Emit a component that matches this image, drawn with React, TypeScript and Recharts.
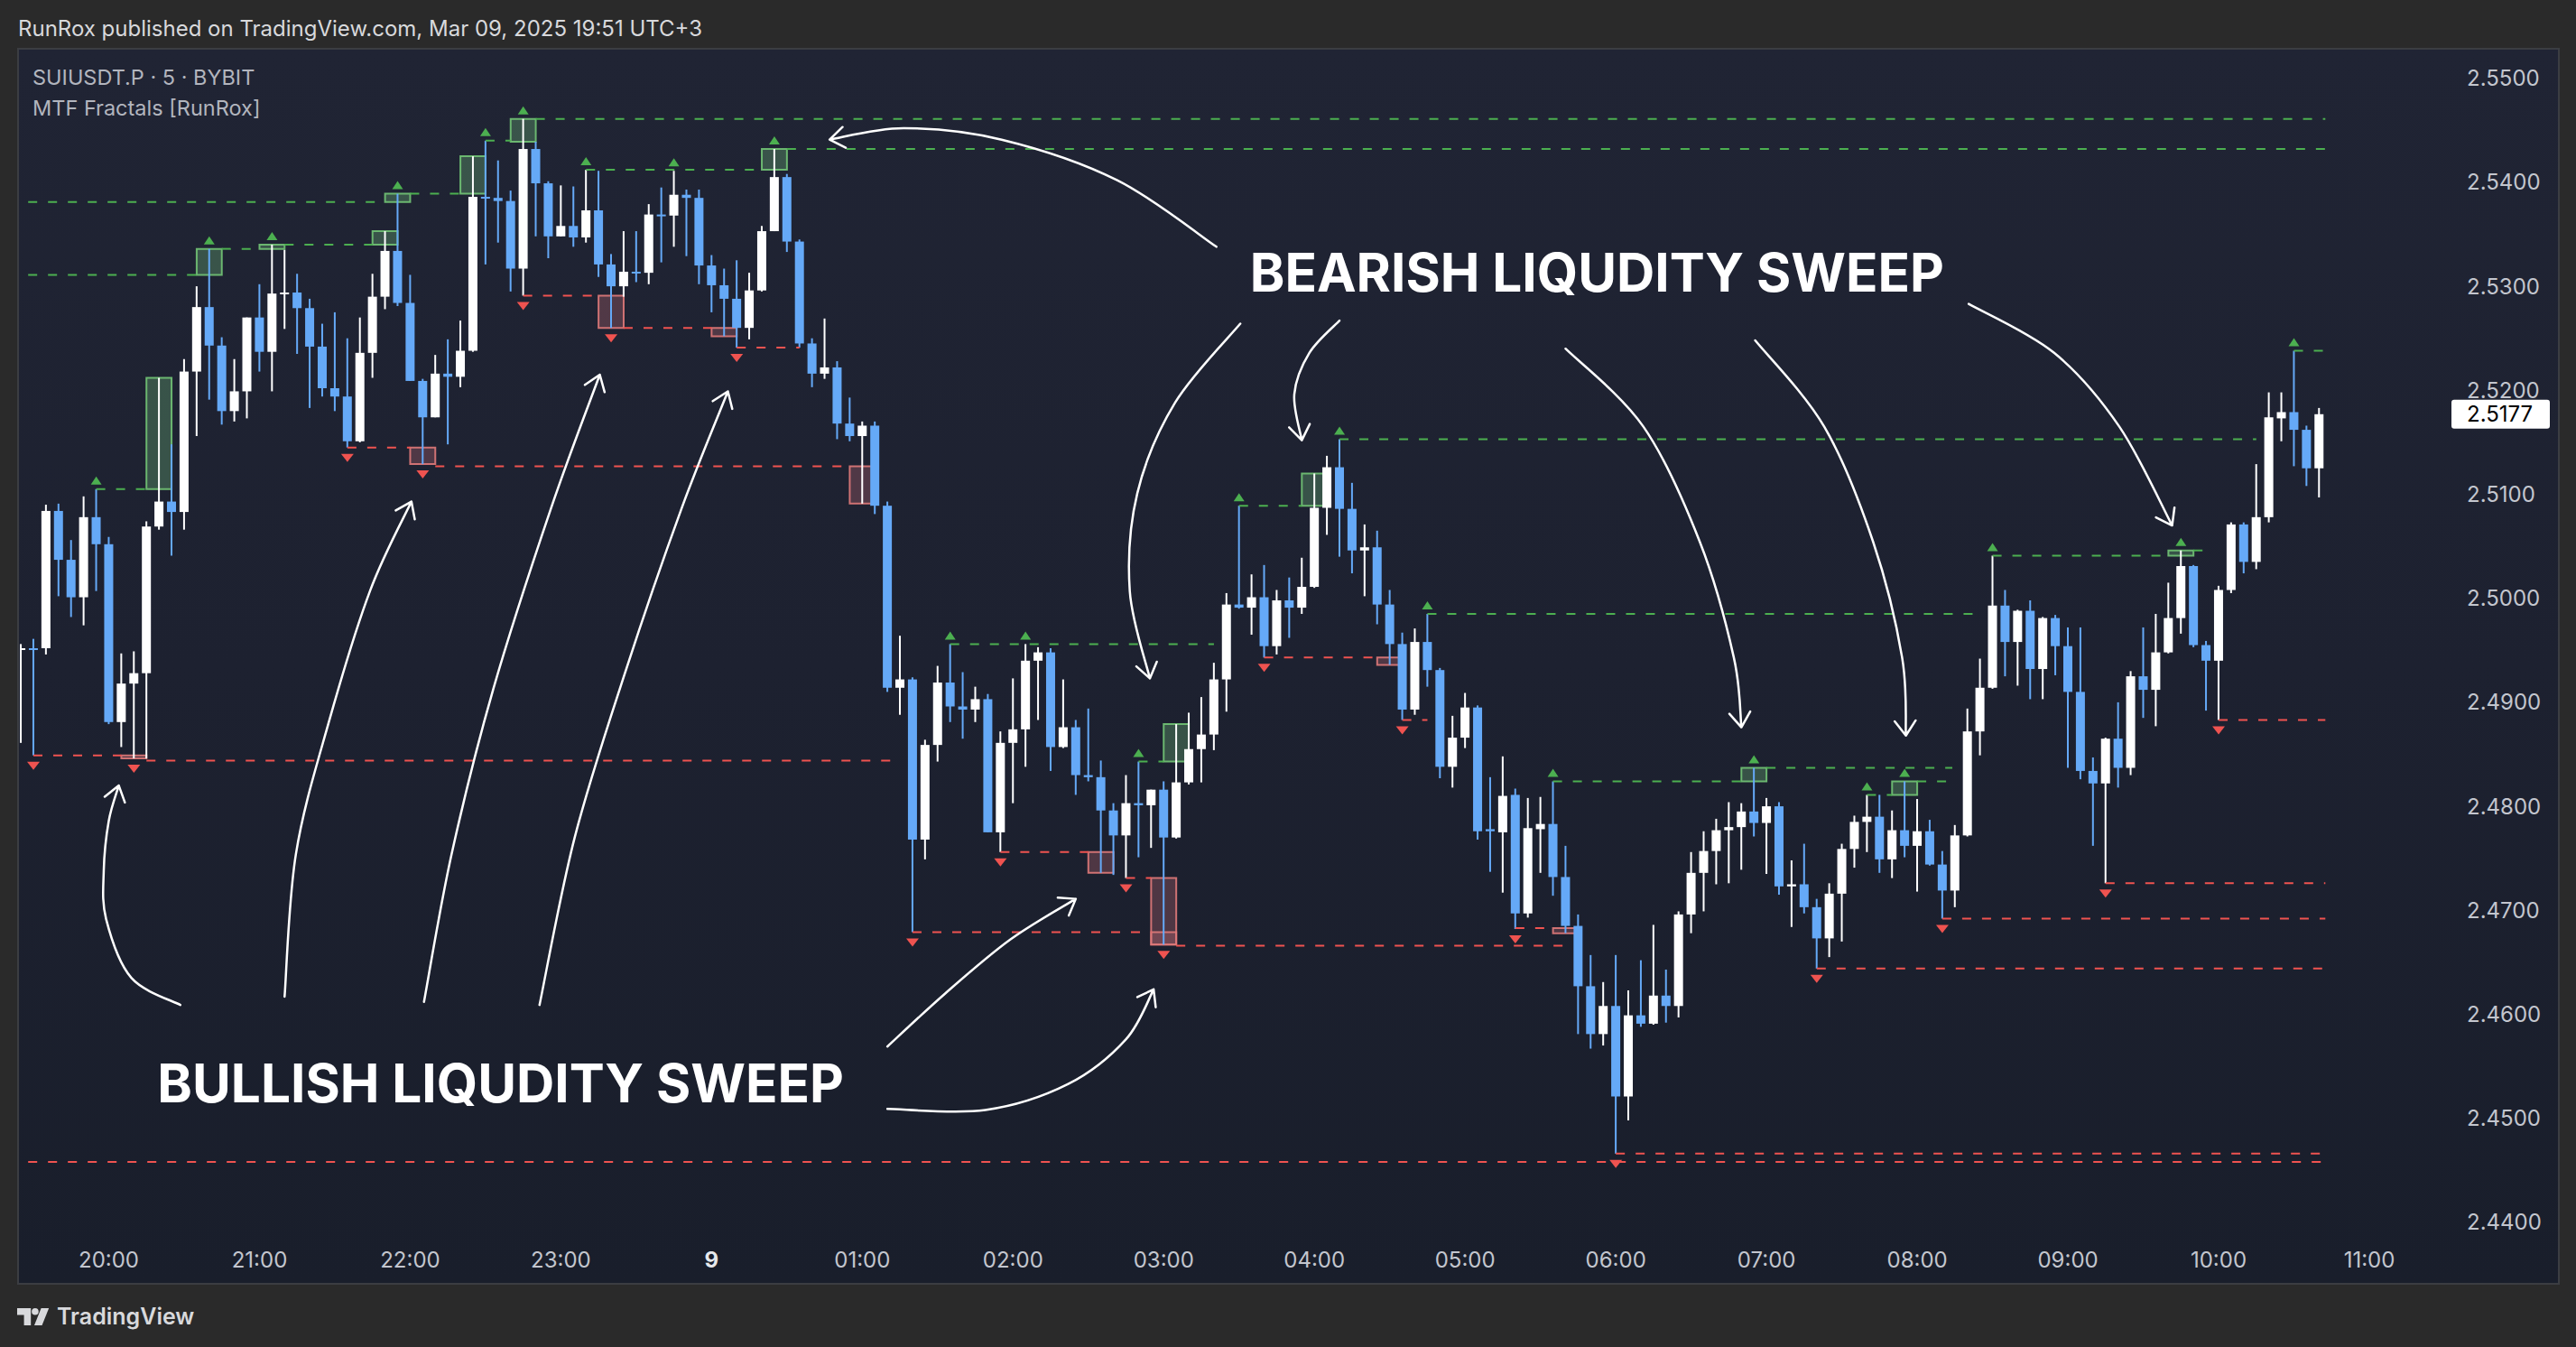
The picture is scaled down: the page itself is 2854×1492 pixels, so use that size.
import React from 'react';
import {
  ComposedChart,
  Bar,
  Scatter,
  XAxis,
  YAxis,
  ReferenceLine,
  ReferenceArea,
  ReferenceDot,
} from 'recharts';

// SUIUSDT.P 5m candles, 19:25 -> 10:40 (index 0 = 19:25)
const opens = [
  2.4951, 2.4952, 2.4952, 2.5084, 2.5037, 2.5001, 2.5078, 2.5052, 2.4881, 2.4918,
  2.4928, 2.5069, 2.5093, 2.5083, 2.5218, 2.528, 2.5243, 2.518, 2.5199, 2.527,
  2.5237, 2.5293, 2.5294, 2.5279, 2.5242, 2.5202, 2.5194, 2.5151, 2.5236, 2.529,
  2.5334, 2.5284, 2.5209, 2.5174, 2.5216, 2.5213, 2.5238, 2.5386, 2.5385, 2.5382,
  2.5317, 2.5432, 2.5399, 2.5348, 2.5358, 2.5347, 2.5373, 2.5321, 2.53, 2.5314,
  2.5313, 2.5369, 2.5368, 2.5388, 2.5385, 2.532, 2.5301, 2.5288, 2.526, 2.5296,
  2.5353, 2.5405, 2.5343, 2.5245, 2.5216, 2.5222, 2.5168, 2.5156, 2.5166, 2.5089,
  2.4914, 2.4922, 2.4768, 2.4859, 2.4919, 2.4896, 2.4893, 2.4903, 2.4775, 2.4861,
  2.4874, 2.494, 2.4948, 2.4857, 2.4876, 2.483, 2.4828, 2.4796, 2.4772, 2.4803,
  2.4801, 2.4816, 2.477, 2.4823, 2.4855, 2.4869, 2.4922, 2.4994, 2.4991, 2.5001,
  2.4954, 2.4998, 2.4991, 2.5011, 2.5087, 2.5126, 2.5086, 2.5046, 2.5049, 2.4994,
  2.4956, 2.4893, 2.4958, 2.4931, 2.4838, 2.4866, 2.4895, 2.4778, 2.4775, 2.4811,
  2.4697, 2.4778, 2.4783, 2.4732, 2.4685, 2.4627, 2.4581, 2.4608, 2.4521, 2.4599,
  2.4591, 2.4618, 2.4608, 2.4696, 2.4736, 2.4757, 2.4777, 2.478, 2.4795, 2.4784,
  2.48, 2.4723, 2.4725, 2.4703, 2.4673, 2.4716, 2.4759, 2.4785, 2.479, 2.4749,
  2.4777, 2.4762, 2.4776, 2.4744, 2.4719, 2.4772, 2.4872, 2.4914, 2.4993, 2.4958,
  2.4988, 2.4932, 2.4981, 2.4954, 2.491, 2.4834, 2.4822, 2.4865, 2.4837, 2.4925,
  2.4912, 2.4948, 2.4981, 2.5031, 2.4955, 2.494, 2.5008, 2.5071, 2.5035, 2.5078,
  2.5173, 2.5179, 2.5162, 2.5125,
];
const highs = [
  2.4956, 2.4961, 2.509, 2.5091, 2.5056, 2.5098, 2.5105, 2.5059, 2.4947, 2.4949,
  2.5074, 2.5212, 2.5148, 2.523, 2.53, 2.5336, 2.5251, 2.523, 2.527, 2.5302,
  2.534, 2.5335, 2.5312, 2.5288, 2.5264, 2.5275, 2.525, 2.527, 2.5312, 2.5353,
  2.5389, 2.5311, 2.5211, 2.5234, 2.5249, 2.5267, 2.5425, 2.544, 2.5421, 2.5392,
  2.5461, 2.5439, 2.5401, 2.5397, 2.5396, 2.5412, 2.5411, 2.5331, 2.5353, 2.5353,
  2.5379, 2.5395, 2.5411, 2.5393, 2.5393, 2.533, 2.5317, 2.5325, 2.5313, 2.5358,
  2.5432, 2.5408, 2.5345, 2.525, 2.5269, 2.5228, 2.5193, 2.517, 2.517, 2.5093,
  2.4964, 2.4924, 2.4864, 2.4935, 2.4956, 2.4929, 2.4915, 2.4908, 2.4872, 2.4923,
  2.4956, 2.4953, 2.4952, 2.4922, 2.4883, 2.4894, 2.4844, 2.4803, 2.483, 2.4843,
  2.4816, 2.4824, 2.4879, 2.489, 2.4905, 2.4938, 2.5005, 2.5089, 2.5023, 2.5032,
  2.5008, 2.502, 2.5039, 2.512, 2.5137, 2.5153, 2.5111, 2.5071, 2.5065, 2.5008,
  2.4967, 2.4971, 2.4985, 2.4933, 2.4887, 2.4909, 2.4897, 2.4828, 2.4848, 2.4817,
  2.4808, 2.4809, 2.4824, 2.4762, 2.4696, 2.4657, 2.4631, 2.4657, 2.4623, 2.4652,
  2.4686, 2.4643, 2.4699, 2.4756, 2.4776, 2.4788, 2.4804, 2.4803, 2.4837, 2.4808,
  2.4804, 2.4748, 2.4764, 2.4711, 2.4726, 2.4764, 2.4791, 2.4811, 2.4811, 2.4796,
  2.4824, 2.4807, 2.4787, 2.4757, 2.4782, 2.4894, 2.4942, 2.5041, 2.5008, 2.4989,
  2.4998, 2.4982, 2.4984, 2.4972, 2.4972, 2.4847, 2.4866, 2.49, 2.493, 2.4972,
  2.4985, 2.5015, 2.5046, 2.5032, 2.4959, 2.5012, 2.5073, 2.5073, 2.5129, 2.5198,
  2.5198, 2.5238, 2.5166, 2.5183,
];
const lows = [
  2.4861, 2.4849, 2.4946, 2.5002, 2.4982, 2.4974, 2.5007, 2.4879, 2.4857, 2.4846,
  2.4846, 2.5066, 2.5041, 2.5066, 2.5156, 2.5191, 2.5167, 2.517, 2.5173, 2.5218,
  2.5199, 2.5259, 2.5235, 2.5183, 2.5194, 2.518, 2.5145, 2.515, 2.5212, 2.5278,
  2.5281, 2.5209, 2.5129, 2.5174, 2.5148, 2.5203, 2.5237, 2.5321, 2.5342, 2.5295,
  2.5291, 2.5348, 2.5327, 2.5348, 2.5338, 2.5342, 2.5309, 2.526, 2.529, 2.5304,
  2.5302, 2.5323, 2.5338, 2.5329, 2.5302, 2.5275, 2.5252, 2.5241, 2.5249, 2.5295,
  2.5353, 2.5333, 2.5241, 2.5203, 2.5211, 2.5153, 2.5151, 2.5091, 2.5081, 2.491,
  2.4888, 2.4679, 2.4749, 2.4843, 2.4881, 2.4865, 2.4881, 2.4775, 2.4756, 2.4803,
  2.4838, 2.4883, 2.4834, 2.4856, 2.4811, 2.4824, 2.4736, 2.4734, 2.4731, 2.4751,
  2.476, 2.4667, 2.4769, 2.4821, 2.4823, 2.4854, 2.4891, 2.499, 2.4965, 2.4943,
  2.4946, 2.4962, 2.4985, 2.501, 2.5061, 2.504, 2.5024, 2.5002, 2.4975, 2.4936,
  2.4883, 2.4888, 2.4915, 2.4827, 2.4818, 2.4856, 2.4768, 2.4737, 2.4717, 2.4682,
  2.4693, 2.4736, 2.4714, 2.4678, 2.4581, 2.4567, 2.457, 2.4466, 2.4498, 2.4588,
  2.459, 2.4592, 2.4597, 2.4678, 2.4699, 2.4725, 2.4726, 2.4739, 2.4771, 2.4735,
  2.4715, 2.4684, 2.4697, 2.4644, 2.4655, 2.467, 2.4741, 2.4756, 2.4736, 2.4731,
  2.4751, 2.4718, 2.4743, 2.4692, 2.4703, 2.4771, 2.4849, 2.4913, 2.4925, 2.4916,
  2.4903, 2.4903, 2.4926, 2.4837, 2.4826, 2.4762, 2.4726, 2.4818, 2.483, 2.4885,
  2.4877, 2.4947, 2.4966, 2.4953, 2.4892, 2.4883, 2.5005, 2.5024, 2.5028, 2.5073,
  2.5151, 2.5127, 2.5108, 2.5097,
];
const closes = [
  2.4952, 2.4951, 2.5084, 2.5037, 2.5001, 2.5078, 2.5052, 2.4881, 2.4918, 2.4928,
  2.5069, 2.5093, 2.5083, 2.5218, 2.528, 2.5243, 2.518, 2.5199, 2.527, 2.5237,
  2.5293, 2.5294, 2.5279, 2.5242, 2.5202, 2.5194, 2.5151, 2.5236, 2.529, 2.5334,
  2.5284, 2.5209, 2.5174, 2.5216, 2.5213, 2.5238, 2.5386, 2.5385, 2.5382, 2.5317,
  2.5432, 2.5399, 2.5348, 2.5358, 2.5347, 2.5373, 2.5321, 2.53, 2.5314, 2.5313,
  2.5369, 2.5368, 2.5388, 2.5385, 2.532, 2.5301, 2.5288, 2.526, 2.5296, 2.5353,
  2.5405, 2.5343, 2.5245, 2.5216, 2.5222, 2.5168, 2.5156, 2.5166, 2.5089, 2.4914,
  2.4922, 2.4768, 2.4859, 2.4919, 2.4896, 2.4893, 2.4903, 2.4775, 2.4861, 2.4874,
  2.494, 2.4948, 2.4857, 2.4876, 2.483, 2.4828, 2.4796, 2.4772, 2.4803, 2.4801,
  2.4816, 2.477, 2.4823, 2.4855, 2.4869, 2.4922, 2.4994, 2.4991, 2.5001, 2.4954,
  2.4998, 2.4991, 2.5011, 2.5087, 2.5126, 2.5086, 2.5046, 2.5049, 2.4994, 2.4956,
  2.4893, 2.4958, 2.4931, 2.4838, 2.4866, 2.4895, 2.4776, 2.4776, 2.481, 2.4697,
  2.4779, 2.4783, 2.4732, 2.4685, 2.4627, 2.4581, 2.4608, 2.4521, 2.4599, 2.4591,
  2.4618, 2.4608, 2.4696, 2.4736, 2.4757, 2.4777, 2.478, 2.4795, 2.4784, 2.48,
  2.4723, 2.4725, 2.4703, 2.4673, 2.4716, 2.4759, 2.4785, 2.479, 2.4749, 2.4777,
  2.4762, 2.4776, 2.4744, 2.4719, 2.4772, 2.4872, 2.4914, 2.4993, 2.4958, 2.4988,
  2.4932, 2.4981, 2.4954, 2.491, 2.4834, 2.4822, 2.4865, 2.4837, 2.4925, 2.4912,
  2.4948, 2.4981, 2.5031, 2.4955, 2.494, 2.5008, 2.5071, 2.5035, 2.5078, 2.5174,
  2.5179, 2.5162, 2.5125, 2.5177,
];

const hourTicks = [7, 19, 31, 43, 55, 67, 79, 91, 103, 115, 127, 139, 151, 163, 175, 187];
const hourLabels = [
  '20:00', '21:00', '22:00', '23:00', '9', '01:00', '02:00', '03:00',
  '04:00', '05:00', '06:00', '07:00', '08:00', '09:00', '10:00', '11:00',
];
const priceTicks = [2.44, 2.45, 2.46, 2.47, 2.48, 2.49, 2.5, 2.51, 2.52, 2.53, 2.54, 2.55];

// fractal levels [from, to, price]
const highLevels = [
  [6, 10, 2.5105], [-1, 14, 2.5311], [16, 19, 2.5336], [21, 28, 2.534],
  [-1, 29, 2.5381], [31, 35, 2.5389], [37, 39, 2.544], [41, 183.5, 2.5461],
  [45, 59, 2.5412], [61, 183.5, 2.5432], [74, 95, 2.4956], [89, 91, 2.4843],
  [97, 102, 2.5089], [105, 178, 2.5153], [112, 156, 2.4985], [122, 137, 2.4824],
  [139, 153.8, 2.4837], [147, 149, 2.4811], [151, 153.8, 2.4824], [157, 171, 2.5041],
  [173, 174.5, 2.5046], [181, 183.5, 2.5238],
];
const lowLevels = [
  [1, 8, 2.4849], [10, 70, 2.4844], [26, 31, 2.5145], [33, 66, 2.5127],
  [40, 46, 2.5291], [48, 55, 2.526], [57, 62, 2.5241], [71, 90, 2.4679],
  [78, 85, 2.4756], [88, 90, 2.4731], [92, 123, 2.4666], [99, 108, 2.4943],
  [110, 112, 2.4883], [119, 122, 2.4683], [127, 183.5, 2.4466], [-1, 183.5, 2.4458],
  [143, 183.5, 2.4644], [153, 183.5, 2.4692], [166, 183.5, 2.4726], [175, 183.5, 2.4883],
];
// liquidity sweeps [candle, swept level]
const highSweeps = [
  [11, 2.5105], [15, 2.5311], [20, 2.5336], [29, 2.534], [30, 2.5381], [36, 2.5389],
  [40, 2.5439], [60, 2.5412], [92, 2.4843], [103, 2.5089], [138, 2.4824], [150, 2.4811],
  [172, 2.5041],
];
const lowSweeps = [
  [9, 2.4849], [32, 2.5145], [47, 2.5291], [56, 2.526], [67, 2.5127], [86, 2.4756],
  [91, 2.4731], [91, 2.4679], [109, 2.4943], [123, 2.4683],
];
const upFractals = [6, 15, 20, 30, 37, 40, 45, 52, 60, 74, 80, 89, 97, 105, 112, 122, 138, 147, 150, 157, 172, 181];
const downFractals = [1, 9, 26, 32, 40, 47, 57, 71, 78, 88, 91, 99, 110, 119, 127, 143, 153, 166, 175];

// hand drawn arrows, [candle index, price]
const bullArrows = [
  [[12.7, 2.4609], [8.8, 2.4635], [6.8, 2.4691], [6.6, 2.4738], [7.0, 2.4786], [7.8, 2.482]],
  [[21.0, 2.4617], [21.9, 2.4754], [24.5, 2.488], [27.8, 2.5007], [31.1, 2.5093]],
  [[32.1, 2.4612], [34.3, 2.4754], [37.6, 2.4912], [42.2, 2.5086], [46.1, 2.5215]],
  [[41.3, 2.4609], [44.1, 2.477], [48.1, 2.4928], [52.6, 2.5086], [56.3, 2.5199]],
  [[69.0, 2.4569], [73.6, 2.462], [78.8, 2.4672], [84.0, 2.4711]],
  [[69.0, 2.4509], [76.8, 2.4508], [83.4, 2.4533], [88.0, 2.4576], [90.2, 2.4624]],
];
const bearArrows = [
  [[95.2, 2.5338], [87.3, 2.5402], [78.1, 2.5441], [70.3, 2.5452], [64.4, 2.5441]],
  [[97.1, 2.5264], [91.9, 2.5188], [88.9, 2.5101], [88.3, 2.5007], [89.9, 2.4923]],
  [[105.0, 2.5267], [102.6, 2.5236], [101.4, 2.5196], [102.0, 2.5152]],
  [[123.0, 2.524], [129.2, 2.5165], [133.7, 2.5054], [136.4, 2.4943], [137.0, 2.4876]],
  [[138.1, 2.5248], [143.6, 2.5165], [147.5, 2.5054], [149.8, 2.4943], [150.1, 2.4868]],
  [[155.1, 2.5283], [161.9, 2.5236], [167.1, 2.5165], [171.3, 2.507]],
];
const notes = [
  { i: 125.5, p: 2.5313, text: 'BEARISH LIQUDITY SWEEP' },
  { i: 38.2, p: 2.4533, text: 'BULLISH LIQUDITY SWEEP' },
];

const BULL = '#ffffff';
const BEAR = '#65a9f7';
const GREEN = '#4caf50';
const RED = '#ef5350';
const AXIS_TEXT = '#c3c6ce';
const FONT = 'Inter, "Noto Sans", sans-serif';

const candles = opens.map((o, i) => ({
  i,
  o,
  hi: highs[i],
  lo: lows[i],
  c: closes[i],
  range: [lows[i], highs[i]],
}));

function Candle(props: any) {
  const { x, y, width, height, payload } = props;
  const top = Math.min(y, y + height);
  const h = Math.abs(height);
  const k = h / (payload.hi - payload.lo || 1e-9);
  const cx = x + width / 2;
  const yO = top + (payload.hi - payload.o) * k;
  const yC = top + (payload.hi - payload.c) * k;
  const color = payload.c >= payload.o ? BULL : BEAR;
  return (
    <g>
      <rect x={cx - 1} y={top} width={2} height={h} fill={color} />
      <rect
        x={cx - 5}
        y={Math.min(yO, yC)}
        width={10}
        height={Math.max(Math.abs(yO - yC), 2)}
        fill={color}
      />
    </g>
  );
}

const UpMark = (props: any) => {
  const { cx, cy } = props;
  return <polygon points={`${cx - 6},${cy - 5} ${cx + 6},${cy - 5} ${cx},${cy - 14}`} fill={GREEN} />;
};
const DownMark = (props: any) => {
  const { cx, cy } = props;
  return <polygon points={`${cx - 7},${cy + 7} ${cx + 7},${cy + 7} ${cx},${cy + 16}`} fill={RED} />;
};
const NoDot = () => <g />;

// smooth curve through the points + open arrow head at the end
function arrowLine(props: any) {
  const pts = props.points as { x: number; y: number }[];
  if (!pts || pts.length < 2) return <g />;
  let d = `M${pts[0].x},${pts[0].y}`;
  let last = pts[0];
  for (let k = 0; k < pts.length - 1; k++) {
    const p0 = pts[k - 1] || pts[k];
    const p1 = pts[k];
    const p2 = pts[k + 1];
    const p3 = pts[k + 2] || p2;
    const c1x = p1.x + (p2.x - p0.x) / 6;
    const c1y = p1.y + (p2.y - p0.y) / 6;
    const c2x = p2.x - (p3.x - p1.x) / 6;
    const c2y = p2.y - (p3.y - p1.y) / 6;
    d += ` C${c1x},${c1y} ${c2x},${c2y} ${p2.x},${p2.y}`;
    last = { x: c2x, y: c2y };
  }
  const tip = pts[pts.length - 1];
  let dx = last.x - tip.x;
  let dy = last.y - tip.y;
  const len = Math.hypot(dx, dy) || 1;
  dx /= len;
  dy /= len;
  const arm = 20;
  const a = 0.62;
  const ax1 = dx * Math.cos(a) - dy * Math.sin(a);
  const ay1 = dx * Math.sin(a) + dy * Math.cos(a);
  const ax2 = dx * Math.cos(-a) - dy * Math.sin(-a);
  const ay2 = dx * Math.sin(-a) + dy * Math.cos(-a);
  d += ` M${tip.x + ax1 * arm},${tip.y + ay1 * arm} L${tip.x},${tip.y} L${tip.x + ax2 * arm},${tip.y + ay2 * arm}`;
  return (
    <path d={d} fill="none" stroke="#ffffff" strokeWidth={2.5} strokeLinecap="round" strokeLinejoin="round" />
  );
}

const HourTick = (props: any) => {
  const { x, y, payload } = props;
  const label = hourLabels[hourTicks.indexOf(payload.value)];
  const bold = label === '9';
  return (
    <text
      x={x}
      y={y + 21}
      dy="0.35em"
      textAnchor="middle"
      fill={bold ? '#e6e8ec' : AXIS_TEXT}
      fontSize={24}
      fontWeight={bold ? 700 : 400}
      fontFamily={FONT}
    >
      {label}
    </text>
  );
};

const PriceTag = (props: any) => {
  const { viewBox } = props;
  const x = viewBox.x + viewBox.width + 11;
  const y = viewBox.y;
  return (
    <g>
      <rect x={x} y={y - 16} width={109} height={32} rx={3} fill="#ffffff" />
      <text x={x + 17} y={y} dy="0.35em" fill="#000000" fontSize={24} fontFamily={FONT}>
        {closes[closes.length - 1].toFixed(4)}
      </text>
    </g>
  );
};

export default function App() {
  return (
    <div
      style={{
        position: 'absolute',
        left: 0,
        top: 0,
        width: 2854,
        height: 1492,
        background: '#2a2a2a',
        fontFamily: FONT,
        overflow: 'hidden',
      }}
    >
      <div style={{ position: 'absolute', left: 20, top: 20, fontSize: 24, lineHeight: 1, color: '#d8d9dc' }}>
        RunRox published on TradingView.com, Mar 09, 2025 19:51 UTC+3
      </div>
      <div
        style={{
          position: 'absolute',
          left: 19,
          top: 53,
          width: 2813,
          height: 1366,
          border: '2px solid #3b3d42',
          background: 'linear-gradient(180deg, #202434 0%, #1d2130 50%, #191e2b 100%)',
        }}
      />
      <div style={{ position: 'absolute', left: 0, top: 0 }}>
        <ComposedChart
          width={2854}
          height={1492}
          data={candles}
          margin={{ top: 55, right: 29, bottom: 67, left: 22 }}
        >
          <XAxis
            dataKey="i"
            type="number"
            domain={[-0.08, 192.75]}
            allowDataOverflow
            ticks={hourTicks}
            interval={0}
            axisLine={false}
            tickLine={false}
            tickSize={0}
            tickMargin={0}
            height={50}
            tick={<HourTick />}
          />
          <YAxis
            orientation="right"
            type="number"
            domain={[2.438168, 2.552752]}
            allowDataOverflow
            ticks={priceTicks}
            interval={0}
            axisLine={false}
            tickLine={false}
            tickSize={0}
            tickMargin={28}
            width={120}
            tickFormatter={(v: number) => v.toFixed(4)}
            tick={{ fill: AXIS_TEXT, fontSize: 24, fontFamily: FONT }}
          />

          {highSweeps.map(([i, lvl], k) => (
            <ReferenceArea
              key={`hs${k}`}
              x1={i - 1}
              x2={i + 1}
              y1={lvl}
              y2={highs[i]}
              fill="rgb(120,200,130)"
              fillOpacity={0.3}
              stroke="#72c476"
              strokeWidth={2}
              strokeOpacity={0.9}
            />
          ))}
          {lowSweeps.map(([i, lvl], k) => (
            <ReferenceArea
              key={`ls${k}`}
              x1={i - 1}
              x2={i + 1}
              y1={lows[i]}
              y2={lvl}
              fill="rgb(200,110,120)"
              fillOpacity={0.3}
              stroke="#e07a7a"
              strokeWidth={2}
              strokeOpacity={0.9}
            />
          ))}

          {highLevels.map(([a, b, p], k) => (
            <ReferenceLine
              key={`hl${k}`}
              segment={[{ x: a, y: p }, { x: b, y: p }]}
              stroke={GREEN}
              strokeWidth={2}
              strokeDasharray="10 12"
              ifOverflow="hidden"
            />
          ))}
          {lowLevels.map(([a, b, p], k) => (
            <ReferenceLine
              key={`ll${k}`}
              segment={[{ x: a, y: p }, { x: b, y: p }]}
              stroke={RED}
              strokeWidth={2}
              strokeDasharray="10 12"
              ifOverflow="hidden"
            />
          ))}

          <Bar dataKey="range" barSize={10} shape={Candle} isAnimationActive={false} />

          <Scatter
            data={upFractals.map((i) => ({ i, p: highs[i] }))}
            dataKey="p"
            shape={UpMark}
            isAnimationActive={false}
          />
          <Scatter
            data={downFractals.map((i) => ({ i, p: lows[i] }))}
            dataKey="p"
            shape={DownMark}
            isAnimationActive={false}
          />

          {[...bullArrows, ...bearArrows].map((arrow, k) => (
            <Scatter
              key={`ar${k}`}
              data={arrow.map(([i, p]) => ({ i, p }))}
              dataKey="p"
              line={arrowLine}
              shape={NoDot}
              isAnimationActive={false}
            />
          ))}

          {notes.map((n) => (
            <ReferenceDot
              key={n.text}
              x={n.i}
              y={n.p}
              r={0}
              fill="none"
              stroke="none"
              label={{
                value: n.text,
                position: 'center',
                fill: '#ffffff',
                fontSize: 58.5,
                fontWeight: 700,
                fontFamily: FONT,
              }}
            />
          ))}

          <ReferenceLine
            y={closes[closes.length - 1]}
            stroke="none"
            label={(props: any) => <PriceTag {...props} />}
          />
        </ComposedChart>
      </div>

      <div style={{ position: 'absolute', left: 36, top: 74, fontSize: 23.5, lineHeight: 1, color: '#b2b5be' }}>
        SUIUSDT.P · 5 · BYBIT
      </div>
      <div style={{ position: 'absolute', left: 36, top: 108, fontSize: 23.5, lineHeight: 1, color: '#b2b5be' }}>
        MTF Fractals [RunRox]
      </div>

      <div style={{ position: 'absolute', left: 19, top: 1446, display: 'flex', alignItems: 'center', gap: 6 }}>
        <svg width={38} height={23} viewBox="0 0 40 24">
          <path d="M0 2h16v20h-8V10H0z" fill="#d8d9dc" />
          <circle cx={21} cy={6} r={4} fill="#d8d9dc" />
          <path d="M28 2h9l-8 20h-9z" fill="#d8d9dc" />
        </svg>
        <span style={{ fontSize: 25, fontWeight: 600, color: '#d8d9dc', lineHeight: 1 }}>TradingView</span>
      </div>
    </div>
  );
}
